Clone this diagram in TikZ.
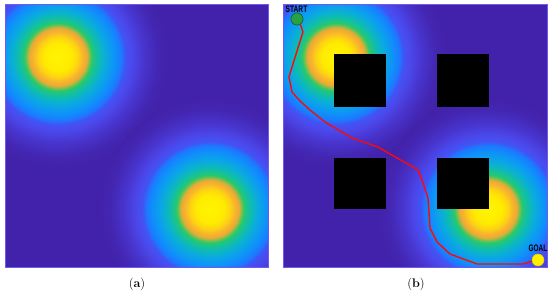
\documentclass[tikz,border=0pt]{standalone}
\usepackage{fontspec}
\usepackage{graphicx}
\newfontfamily\labfont{Liberation Sans}
\definecolor{bgc}{RGB}{66,34,170}
\definecolor{k0}{RGB}{255,245,0}
\definecolor{k1}{RGB}{255,235,0}
\definecolor{k2}{RGB}{253,212,18}
\definecolor{k3}{RGB}{248,180,45}
\definecolor{k4}{RGB}{232,170,55}
\definecolor{k5}{RGB}{140,190,70}
\definecolor{k6}{RGB}{40,200,110}
\definecolor{k7}{RGB}{15,190,170}
\definecolor{k8}{RGB}{10,170,225}
\definecolor{k9}{RGB}{15,145,250}
\definecolor{k10}{RGB}{30,118,255}
\definecolor{k11}{RGB}{65,85,245}
\definecolor{k12}{RGB}{75,72,235}
\definecolor{k13}{RGB}{72,52,205}
\definecolor{k14}{RGB}{67,38,178}
\definecolor{pathred}{RGB}{250,10,10}
\definecolor{startg}{RGB}{40,160,70}
\definecolor{goaly}{RGB}{255,240,0}
\definecolor{framec}{RGB}{110,90,240}
\pgfdeclareradialshading{blob}{\pgfpoint{0bp}{0bp}}{%
color(0bp)=(k0); color(3.18bp)=(k1); color(4.55bp)=(k2); color(5.68bp)=(k3);
color(6.59bp)=(k4); color(7.05bp)=(k5); color(7.73bp)=(k6); color(9.09bp)=(k7);
color(10.9bp)=(k8); color(12.95bp)=(k9); color(14.55bp)=(k10); color(15.23bp)=(k11);
color(16.82bp)=(k12); color(19.55bp)=(k13); color(22.7bp)=(k14);
color(25bp)=(bgc); color(50bp)=(bgc)}
\tikzset{
  blobshade/.style={shading=blob},
  obstacle/.style={fill=black},
  frame/.style={draw=framec, line width=0.6pt},
  startdot/.style={circle, fill=startg, draw=startg!60!black, line width=0.5pt, minimum size=12pt, inner sep=0pt},
  goaldot/.style={circle, fill=goaly, draw=goaly!80!black, line width=0.3pt, minimum size=12pt, inner sep=0pt},
  tag/.style={inner sep=0pt, font=\labfont\bfseries\fontsize{9.5}{9.5}\selectfont},
  caption/.style={inner sep=0pt, font=\fontsize{12.5}{14}\selectfont},
  route/.style={draw=pathred, line width=1.4pt, line join=round}
}
\begin{document}
\begin{tikzpicture}[x=1pt, y=-1pt]
\useasboundingbox (0,0) rectangle (550,295);
\fill[white] (0,0) rectangle (550,295);
% panel (a)
\begin{scope}
  \clip (5,4) rectangle (268,267);
  \fill[bgc] (5,4) rectangle (268,267);
  \shade[blobshade] (58,57) circle[radius=110pt];
  \shade[blobshade] (210,209) circle[radius=110pt];
\end{scope}
\draw[frame] (5,4) rectangle (268,267);
% panel (b)
\begin{scope}
  \clip (283,4) rectangle (547,267);
  \fill[bgc] (283,4) rectangle (547,267);
  \shade[blobshade] (336,57) circle[radius=110pt];
  \shade[blobshade] (488,209) circle[radius=110pt];
  \fill[obstacle] (334,54) rectangle (386,107);
  \fill[obstacle] (437,54) rectangle (489,107);
  \fill[obstacle] (334,158) rectangle (386,209);
  \fill[obstacle] (437,158) rectangle (489,209);
\end{scope}
\draw[frame] (283,4) rectangle (547,267);
% route
\coordinate (p1) at (301,26);
\coordinate (p2) at (303,32);
\coordinate (p3) at (292,67);
\coordinate (p4) at (289,77);
\coordinate (p5) at (292,92);
\coordinate (p6) at (300,101);
\coordinate (p7) at (310,110);
\coordinate (p8) at (325,122);
\coordinate (p9) at (352,138);
\coordinate (p10) at (378,147);
\coordinate (p11) at (418,170);
\coordinate (p12) at (422,180);
\coordinate (p13) at (428,198);
\coordinate (p14) at (430,228);
\coordinate (p15) at (437,242);
\coordinate (p16) at (450,254);
\coordinate (p17) at (477,264);
\coordinate (p18) at (523,264);
\coordinate (p19) at (533,261);
\node[startdot] (start) at (297,19) {};
\node[goaldot] (goal) at (538,260) {};
\draw[route] (start) -- (p1) -- (p2) -- (p3) -- (p4) -- (p5) -- (p6) -- (p7) -- (p8) -- (p9) -- (p10) -- (p11) -- (p12) -- (p13) -- (p14) -- (p15) -- (p16) -- (p17) -- (p18) -- (p19) -- (goal);
\node[startdot] at (start) {};
\node[goaldot] at (goal) {};
\node[tag] (starttxt) at (296.5,9.5) {\scalebox{0.7}[1]{START}};
\node[tag] (goaltxt) at (538,248) {\scalebox{0.68}[1]{GOAL}};
% captions
\node[caption] (capa) at (137,284) {(\textbf{a})};
\node[caption] (capb) at (416,284) {(\textbf{b})};
\end{tikzpicture}
\end{document}
